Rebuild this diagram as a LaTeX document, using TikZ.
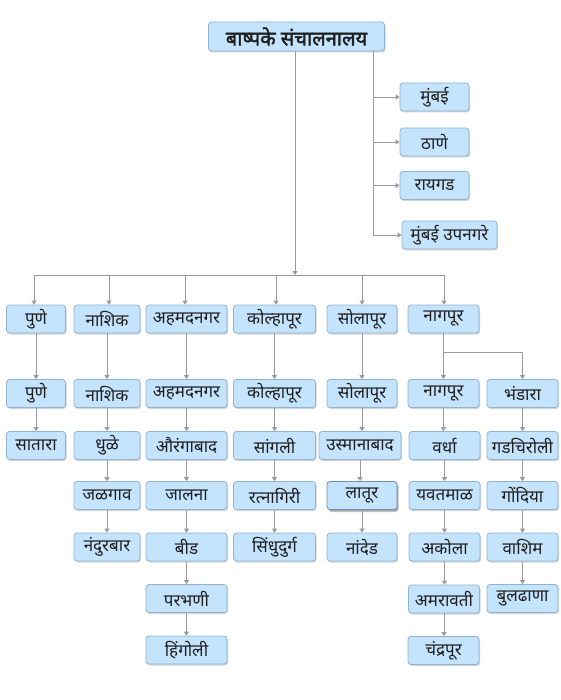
\documentclass[tikz,border=0pt]{standalone}
\usepackage{fontspec}
\newfontfamily\deva[Script=Devanagari]{Noto Sans}
\newfontfamily\devab[Script=Devanagari,FakeBold=2]{Noto Sans}
\usetikzlibrary{arrows.meta,shadows}
\definecolor{boxfill}{HTML}{C4E3FC}
\definecolor{boxline}{HTML}{90B3D2}
\definecolor{selline}{HTML}{6F8FB0}
\definecolor{conncol}{HTML}{9A9A9A}
\definecolor{txt}{HTML}{1E1E1E}
\tikzset{
  box/.style={rectangle, rounded corners=3pt, draw=boxline, line width=0.8pt, fill=boxfill,
    minimum height=28pt, inner sep=0pt, align=center, text=txt,
    font=\deva\fontsize{17}{19}\selectfont,
    drop shadow={shadow xshift=1pt, shadow yshift=-1.5pt, opacity=0.28, fill=black!60}},
  selbox/.style={box, draw=selline,
    drop shadow={shadow xshift=1.5pt, shadow yshift=-2.5pt, opacity=0.4, fill=black!60}},
  conn/.style={draw=conncol, line width=0.8pt, -{Triangle[width=5pt,length=4pt]}},
  plain/.style={draw=conncol, line width=0.8pt},
}
\begin{document}
\begin{tikzpicture}[x=1pt,y=-1pt]
\useasboundingbox (0,0) rectangle (560,700);
% top
\node[box, minimum width=176pt, minimum height=29pt, font=\devab\fontsize{20}{22}\selectfont] (top) at (296.5,36.5) {बाष्पके संचालनालय};
% mumbai group
\node[box, minimum width=69pt] (mum) at (434.5,97) {मुंबई};
\node[box, minimum width=69pt] (thane) at (434.5,142) {ठाणे};
\node[box, minimum width=69pt] (raigad) at (434.5,185.5) {रायगड};
\node[box, minimum width=95pt] (mumup) at (449.5,235) {मुंबई उपनगरे};
\coordinate (rtop) at (373,51);
\draw[conn] (rtop) |- (mum.west);
\draw[conn] (rtop) |- (thane.west);
\draw[conn] (rtop) |- (raigad.west);
\draw[conn] (rtop) |- (mumup.west);
% column 1
\node[box, minimum width=59pt] (a1) at (36,319) {पुणे};
\node[box, minimum width=59pt] (a2) at (36,393.5) {पुणे};
\node[box, minimum width=59pt] (a3) at (36,445.5) {सातारा};
% column 2
\node[box, minimum width=66pt] (b1) at (107,319) {नाशिक};
\node[box, minimum width=66pt] (b2) at (107,393.5) {नाशिक};
\node[box, minimum width=66pt] (b3) at (107,445.5) {धुळे};
\node[box, minimum width=66pt] (b4) at (107,495.5) {जळगाव};
\node[box, minimum width=66pt] (b5) at (107,547) {नंदुरबार};
% column 3
\node[box, minimum width=81pt] (c1) at (186.5,319) {अहमदनगर};
\node[box, minimum width=81pt] (c2) at (186.5,393.5) {अहमदनगर};
\node[box, minimum width=81pt] (c3) at (186.5,445.5) {औरंगाबाद};
\node[box, minimum width=81pt] (c4) at (186.5,495.5) {जालना};
\node[box, minimum width=81pt] (c5) at (186.5,547) {बीड};
\node[box, minimum width=81pt] (c6) at (186.5,598.5) {परभणी};
\node[box, minimum width=81pt] (c7) at (186.5,650) {हिंगोली};
% column 4
\node[box, minimum width=82pt] (d1) at (274.5,319) {कोल्हापूर};
\node[box, minimum width=82pt] (d2) at (274.5,393.5) {कोल्हापूर};
\node[box, minimum width=82pt] (d3) at (274.5,445.5) {सांगली};
\node[box, minimum width=82pt] (d4) at (274.5,495.5) {रत्नागिरी};
\node[box, minimum width=82pt] (d5) at (274.5,547) {सिंधुदुर्ग};
% column 5
\node[box, minimum width=70pt] (e1) at (362,319) {सोलापूर};
\node[box, minimum width=70pt] (e2) at (362,393.5) {सोलापूर};
\node[box, minimum width=82pt] (e3) at (360,445.5) {उस्मानाबाद};
\node[selbox, minimum width=70pt] (e4) at (362,495.5) {लातूर};
\node[box, minimum width=70pt] (e5) at (362,547) {नांदेड};
% column 6
\node[box, minimum width=71pt] (f1) at (443.5,319) {नागपूर};
\node[box, minimum width=71pt] (f2) at (443.5,393.5) {नागपूर};
\node[box, minimum width=71pt] (f3) at (444.5,445.5) {वर्धा};
\node[box, minimum width=71pt] (f4) at (444.5,495.5) {यवतमाळ};
\node[box, minimum width=71pt] (f5) at (444.5,547) {अकोला};
\node[box, minimum width=71pt] (f6) at (444,599) {अमरावती};
\node[box, minimum width=71pt] (f7) at (443.5,650.5) {चंद्रपूर};
% column 7
\node[box, minimum width=71pt] (g2) at (522.5,393.5) {भंडारा};
\node[box, minimum width=71pt] (g3) at (522.5,445.5) {गडचिरोली};
\node[box, minimum width=71pt] (g4) at (522.5,495.5) {गोंदिया};
\node[box, minimum width=71pt] (g5) at (522.5,547) {वाशिम};
\node[box, minimum width=71pt] (g6) at (522.5,598.5) {बुलढाणा};
% bus
\coordinate (busL) at (34,275);
\coordinate (busR) at (444,275);
\coordinate (busT) at (295,275);
\draw[plain] (busL) -- (busR);
\draw[conn] (top.south -| busT) -- (busT);
\foreach \n/\x in {a1/34, b1/109, c1/185, d1/276, e1/362, f1/444} {
  \draw[conn] (\x,275) -- (\n.north -| \x,0);
}
% chains
\foreach \p/\q in {a1/a2, a2/a3, b1/b2, b2/b3, b3/b4, b4/b5,
  c1/c2, c2/c3, c3/c4, c4/c5, c5/c6, c6/c7,
  d1/d2, d2/d3, d3/d4, d4/d5,
  e1/e2, e2/e3, e3/e4, e4/e5,
  f2/f3, f3/f4, f4/f5, f5/f6, f6/f7,
  g2/g3, g3/g4, g4/g5, g5/g6} {
  \draw[conn] (\p.south) -- (\p.south |- \q.north);
}
% nagpur split
\coordinate (nsplit) at (443.5,352);
\draw[plain] (f1.south) -- (nsplit) -| (g2.north |- 0,360);
\draw[conn] (nsplit) -- (f2.north);
\draw[conn] (g2.north |- nsplit) -- (g2.north);
\end{tikzpicture}
\end{document}
